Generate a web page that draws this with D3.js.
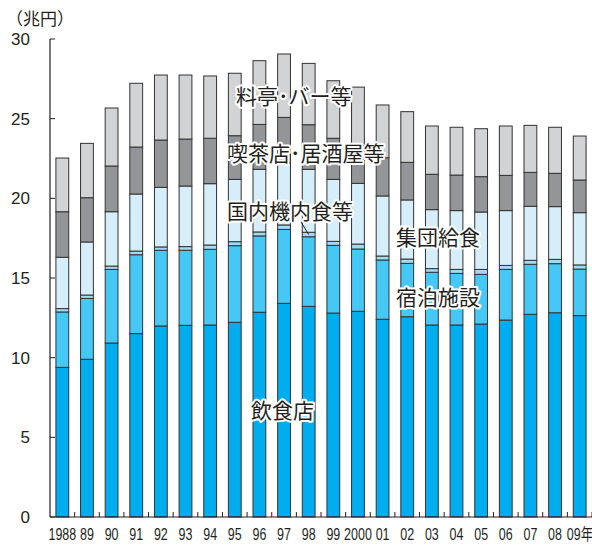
<!DOCTYPE html>
<html>
    <head>
        <meta charset="utf-8">
        <script src="https://d3js.org/d3.v7.min.js"></script>
        <style>
            body {
                margin: 0;
                background: #fff;
            }
            .tick-label {
                font-family: 'Liberation Sans', 'Noto Sans CJK JP', sans-serif;
                font-size: 17px;
                fill: #231f20;
            }
            .note {
                font-family: 'Noto Sans CJK JP', sans-serif;
                font-size: 21px;
                fill: #231f20;
                stroke: #fff;
                stroke-width: 4px;
                stroke-linejoin: round;
                paint-order: stroke;
            }
        </style>
    </head>

    <body>
        <script>
            // 年
            const years = ['1988', '89', '90', '91', '92', '93', '94', '95', '96', '97', '98', '99', '2000', '01', '02', '03', '04', '05', '06', '07', '08', '09年'];

            // 兆円 (下から積み上げ)
            const inshokuten = [9.39, 9.9, 10.92, 11.51, 11.99, 12.03, 12.05, 12.22, 12.85, 13.41, 13.22, 12.8, 12.91, 12.41, 12.57, 12.05, 12.05, 12.11, 12.36, 12.72, 12.82, 12.64];
            const shukuhaku = [3.48, 3.82, 4.62, 4.95, 4.75, 4.71, 4.75, 4.81, 4.79, 4.64, 4.37, 4.25, 3.91, 3.72, 3.35, 3.31, 3.24, 3.12, 3.18, 3.14, 3.08, 2.92];
            const kinaishoku = [0.21, 0.21, 0.21, 0.23, 0.21, 0.23, 0.27, 0.25, 0.25, 0.28, 0.28, 0.25, 0.31, 0.25, 0.27, 0.23, 0.25, 0.31, 0.25, 0.25, 0.27, 0.26];
            const shudan = [3.22, 3.33, 3.41, 3.58, 3.74, 3.8, 3.85, 3.91, 3.93, 3.87, 3.95, 3.89, 3.81, 3.77, 3.71, 3.7, 3.69, 3.6, 3.44, 3.39, 3.31, 3.28];
            const kissa = [2.86, 2.78, 2.87, 2.95, 2.97, 2.95, 2.85, 2.74, 2.82, 2.88, 2.8, 2.58, 2.36, 2.4, 2.36, 2.22, 2.23, 2.22, 2.21, 2.13, 2.09, 2.05];
            const ryotei = [3.37, 3.41, 3.64, 4.0, 4.08, 4.02, 3.91, 3.92, 4.0, 3.98, 3.85, 3.61, 3.68, 3.31, 3.18, 3.03, 3.0, 3.01, 3.1, 2.95, 2.89, 2.76];

            const yTicks = [0, 5, 10, 15, 20, 25, 30];

            const keys = ['inshokuten', 'shukuhaku', 'kinaishoku', 'shudan', 'kissa', 'ryotei'];
            const colors = ['#00aeef', '#45c8f5', '#a3daf2', '#d5eefa', '#939598', '#d1d3d4'];

            const rows = years.map((y, i) => ({
                year: y,
                inshokuten: inshokuten[i],
                shukuhaku: shukuhaku[i],
                kinaishoku: kinaishoku[i],
                shudan: shudan[i],
                kissa: kissa[i],
                ryotei: ryotei[i],
            }));

            const width = 592;
            const height = 545;
            const svg = d3.select('body').append('svg').attr('width', width).attr('height', height);

            const x = d3.scaleBand().domain(years).range([50, 592]).paddingInner(0.48).paddingOuter(0.24);
            const y = d3.scaleLinear().domain([0, 30]).range([517, 39]);

            const stacked = d3.stack().keys(keys)(rows);

            // bars
            const layer = svg
                .append('g')
                .selectAll('g')
                .data(stacked)
                .join('g')
                .attr('fill', (d, i) => colors[i]);
            layer
                .selectAll('rect')
                .data((d) => d)
                .join('rect')
                .attr('x', (d) => x(d.data.year))
                .attr('y', (d) => y(d[1]))
                .attr('width', x.bandwidth())
                .attr('height', (d) => y(d[0]) - y(d[1]))
                .attr('stroke', '#333')
                .attr('stroke-width', 1);

            // y axis
            const yAxis = svg.append('g');
            yAxis.append('line').attr('x1', 50).attr('x2', 50).attr('y1', y(30)).attr('y2', y(0)).attr('stroke', '#231f20').attr('stroke-width', 1.2);
            yAxis
                .selectAll('line.t')
                .data(yTicks)
                .join('line')
                .attr('class', 't')
                .attr('x1', 50)
                .attr('x2', 55)
                .attr('y1', (d) => y(d))
                .attr('y2', (d) => y(d))
                .attr('stroke', '#231f20');
            yAxis
                .selectAll('text')
                .data(yTicks)
                .join('text')
                .attr('class', 'tick-label')
                .attr('x', 30)
                .attr('y', (d) => y(d) + 6)
                .attr('text-anchor', 'end')
                .text((d) => d);

            // x axis
            const xAxis = svg.append('g');
            xAxis.append('line').attr('x1', 50).attr('x2', 592).attr('y1', y(0)).attr('y2', y(0)).attr('stroke', '#231f20').attr('stroke-width', 1.2);
            xAxis
                .selectAll('line.t')
                .data(years.slice(1).concat(['end']))
                .join('line')
                .attr('class', 't')
                .attr('x1', (d, i) => x.range()[0] + x.step() * (i + 1))
                .attr('x2', (d, i) => x.range()[0] + x.step() * (i + 1))
                .attr('y1', y(0) - 5)
                .attr('y2', y(0))
                .attr('stroke', '#231f20');
            // condensed year labels
            xAxis
                .selectAll('text')
                .data(years)
                .join('text')
                .attr('class', 'tick-label')
                .style('font-size', '16px')
                .attr('transform', (d, i) => {
                    const cx = i === years.length - 1 ? 580 : x(d) + x.bandwidth() / 2;
                    return `translate(${cx},540) scale(0.78,1)`;
                })
                .attr('text-anchor', 'middle')
                .text((d) => d);

            svg.append('text')
                .attr('x', 6)
                .attr('y', 25)
                .style('font-family', "'Noto Sans CJK JP', sans-serif")
                .style('font-size', '17px')
                .attr('fill', '#231f20')
                .text('（兆円）');

            // leader line to 国内機内食等 band
            const i98 = years.indexOf('98');
            const band98 = stacked[2][i98];
            svg.append('line')
                .attr('x1', 301)
                .attr('y1', 222)
                .attr('x2', x('98') + x.bandwidth() / 2)
                .attr('y2', y((band98[0] + band98[1]) / 2))
                .attr('stroke', '#231f20')
                .attr('stroke-width', 1);

            // labels
            const notes = [
                { t: '料亭･バー等', x: 236, y: 104 },
                { t: '喫茶店･居酒屋等', x: 227, y: 161 },
                { t: '国内機内食等', x: 227, y: 219 },
                { t: '集団給食', x: 396, y: 245 },
                { t: '宿泊施設', x: 396, y: 305 },
                { t: '飲食店', x: 251, y: 418 },
            ];
            svg.append('g')
                .selectAll('text')
                .data(notes)
                .join('text')
                .attr('class', 'note')
                .attr('x', (d) => d.x)
                .attr('y', (d) => d.y)
                .text((d) => d.t);
        </script>
    </body>
</html>
